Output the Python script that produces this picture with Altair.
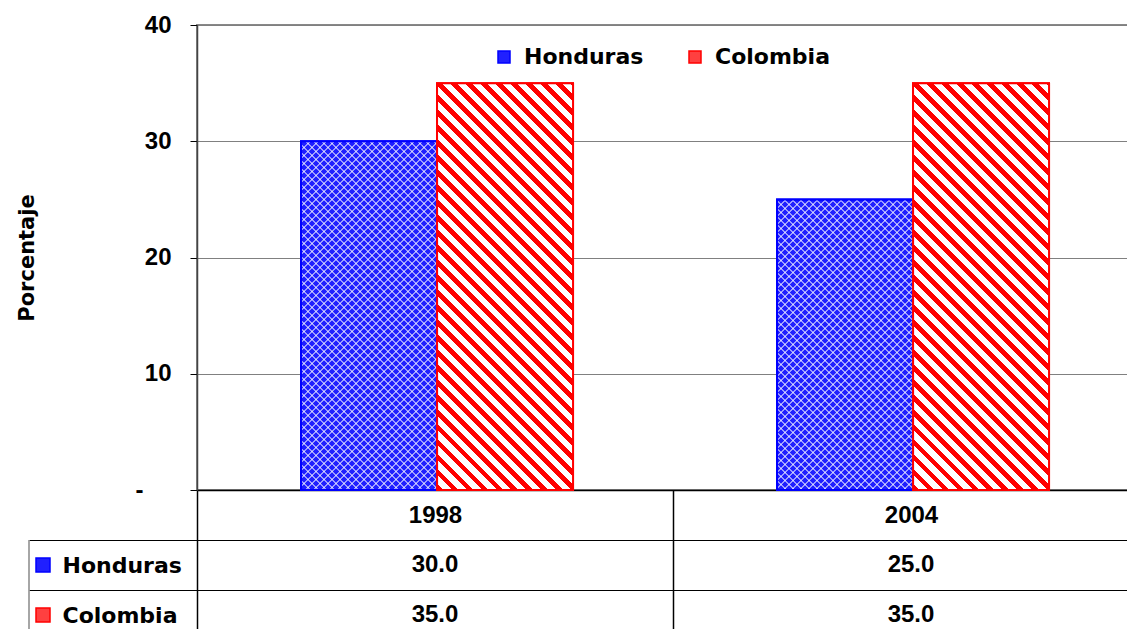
import math
import altair as alt
import pandas as pd

# ---- data ----
years = ["1998", "2004"]
countries = ["Honduras", "Colombia"]
honduras_values = [30.0, 25.0]
colombia_values = [35.0, 35.0]
y_tick_values = [0, 10, 20, 30, 40]
y_max = 40

rows = []
for i, yr in enumerate(years):
    rows.append({"year": yr, "country": "Honduras", "value": honduras_values[i]})
    rows.append({"year": yr, "country": "Colombia", "value": colombia_values[i]})
df = pd.DataFrame(rows)

# ---- layout / style ----
W, H = 952, 465
OFF_PAD = 0.75          # outer padding of the bar pair inside each category
FONT = "Liberation Sans"
WFONT = "DejaVu Sans"
BLUE = "#0000ff"
RED = "#ff0000"
NUM_SIZE = 24

step = W / len(years)
bar_w = step / (len(countries) + 2 * OFF_PAD)


def stripe_gradient(w, h, period, frac, on, off, direction):
    """Hard-stop linear gradient giving 45-degree stripes on a w x h bar."""
    r = h / w
    k = w * (1 + r * r)
    gmax = (w + h) / k
    pg = period * math.sqrt(2) / k
    stops = []
    i = 0
    while i * pg < min(gmax + pg, 1.0):
        a = i * pg
        b = a + frac * pg
        c = (i + 1) * pg
        for o, col in ((a, on), (b, on), (b, off), (c, off)):
            stops.append(alt.GradientStop(offset=min(o, 1.0), color=col))
        i += 1
    if direction == "down":
        x1, y1, x2, y2 = 0, 1, 1, 1 - r
    else:
        x1, y1, x2, y2 = 0, 0, 1, r
    return alt.LinearGradient(gradient="linear", stops=stops,
                              x1=x1, y1=y1, x2=x2, y2=y2)


x_enc = alt.X(
    "year:N",
    scale=alt.Scale(domain=years, paddingInner=0, paddingOuter=0),
    axis=alt.Axis(title=None, labelAngle=0, labelFont=FONT, labelFontSize=NUM_SIZE,
                  labelFontWeight="bold", labelColor="black", labelPadding=-125,
                  labelBaseline="middle", tickBand="extent", tickSize=150,
                  tickColor="black", tickWidth=1.5, domainColor="black",
                  domainWidth=1.5, grid=False),
)
xoff_enc = alt.XOffset("country:N",
                       scale=alt.Scale(domain=countries, paddingInner=0,
                                       paddingOuter=OFF_PAD, align=0.51))
y_enc = alt.Y(
    "value:Q",
    scale=alt.Scale(domain=[0, y_max], nice=False, zero=True),
    axis=alt.Axis(values=y_tick_values, title="Porcentaje", titleFont=WFONT,
                  titleFontSize=21, titleFontWeight="bold", titleColor="black",
                  titleAngle=270, titleX=-170, titleY=H / 2, titleAlign="center",
                  titleBaseline="middle", labelFont=FONT, labelFontSize=NUM_SIZE,
                  labelFontWeight="bold", labelColor="black",
                  labelPadding={"condition": {"test": "datum.value == 0", "value": 47},
                                "value": 19},
                  labelExpr="datum.value == 0 ? '-' : datum.label",
                  tickSize=7, tickColor="black", domainColor="#444", domainWidth=1.5,
                  gridColor="#808080", gridWidth=1),
)

legend = alt.Legend(title=None, orient="none", legendX=296, legendY=21,
                    direction="horizontal", labelFont=WFONT, labelFontSize=22,
                    labelFontWeight="bold", labelColor="black", symbolType="square",
                    symbolSize=144, symbolStrokeWidth=1.5, symbolOpacity=1,
                    labelOffset=9, columnPadding=40, padding=0)
fill_enc = alt.Fill("country:N",
                    scale=alt.Scale(domain=countries, range=["#2020ff", "#ff4040"]),
                    legend=legend)
stroke_enc = alt.Stroke("country:N",
                        scale=alt.Scale(domain=countries, range=[BLUE, RED]),
                        legend=legend)

base = alt.Chart(df).mark_bar(strokeWidth=2).encode(
    x=x_enc, xOffset=xoff_enc, y=y_enc, fill=fill_enc, stroke=stroke_enc)

overlays = []
for rec in rows:
    h = rec["value"] * H / y_max
    flt = f"datum.year == '{rec['year']}' && datum.country == '{rec['country']}'"
    if rec["country"] == "Colombia":
        grads = [stripe_gradient(bar_w, h, 10.6, 0.46, RED, "#ffffff", "down")]
    else:
        grads = [
            stripe_gradient(bar_w, h, 5.66, 0.26, "rgba(255,255,255,0.55)",
                            "rgba(255,255,255,0)", "down"),
            stripe_gradient(bar_w, h, 5.66, 0.26, "rgba(255,255,255,0.55)",
                            "rgba(255,255,255,0)", "up"),
        ]
    for g in grads:
        overlays.append(
            alt.Chart(df).transform_filter(flt).mark_bar(fill=g, strokeWidth=0)
            .encode(x=x_enc, xOffset=xoff_enc, y=y_enc)
        )

outline = alt.Chart(df).mark_bar(fillOpacity=0, strokeWidth=2).encode(
    x=x_enc, xOffset=xoff_enc, y=y_enc, stroke=stroke_enc)

bars_group = alt.layer(base, *overlays, outline)

# ---- data table under the plot ----
ty = alt.Y(
    "country:N",
    scale=alt.Scale(domain=countries, range=[515, 615], paddingInner=0, paddingOuter=0),
    axis=alt.Axis(orient="left", title=None, domain=False, grid=True, gridColor="black",
                  gridWidth=1.2, tickBand="extent", tickSize=168, tickColor="black",
                  tickWidth=1.2, labelPadding=-33, labelAlign="left",
                  labelBaseline="middle", labelFont=WFONT, labelFontSize=22,
                  labelFontWeight="bold", labelColor="black"),
)
table_text = alt.Chart(df).mark_text(font=FONT, fontSize=NUM_SIZE, fontWeight="bold",
                                     color="black", baseline="middle").encode(
    x=x_enc, y=ty, text=alt.Text("value:Q", format=".1f"))
table_keys = alt.Chart(pd.DataFrame({"country": countries})).mark_point(
    shape="square", filled=True, size=196, strokeWidth=1.5, opacity=1).encode(
    x=alt.value(-154), y=ty, fill=fill_enc, stroke=stroke_enc)
table_border = alt.Chart(pd.DataFrame({"a": [0]})).mark_rule(
    color="#888888", strokeWidth=1.5).encode(
    x=alt.value(-168), y=alt.value(515), y2=alt.value(640))

table_group = alt.layer(table_text, table_keys, table_border)

chart = (
    alt.layer(bars_group, table_group)
    .resolve_scale(y="independent")
    .properties(width=W, height=H,
                autosize=alt.AutoSizeParams(type="none"),
                padding={"left": 189, "top": 17, "right": -22, "bottom": 139})
    .configure_view(stroke="#888888", strokeWidth=2)
)

chart.save("out.html", embed_options={"renderer": "svg", "actions": False})
